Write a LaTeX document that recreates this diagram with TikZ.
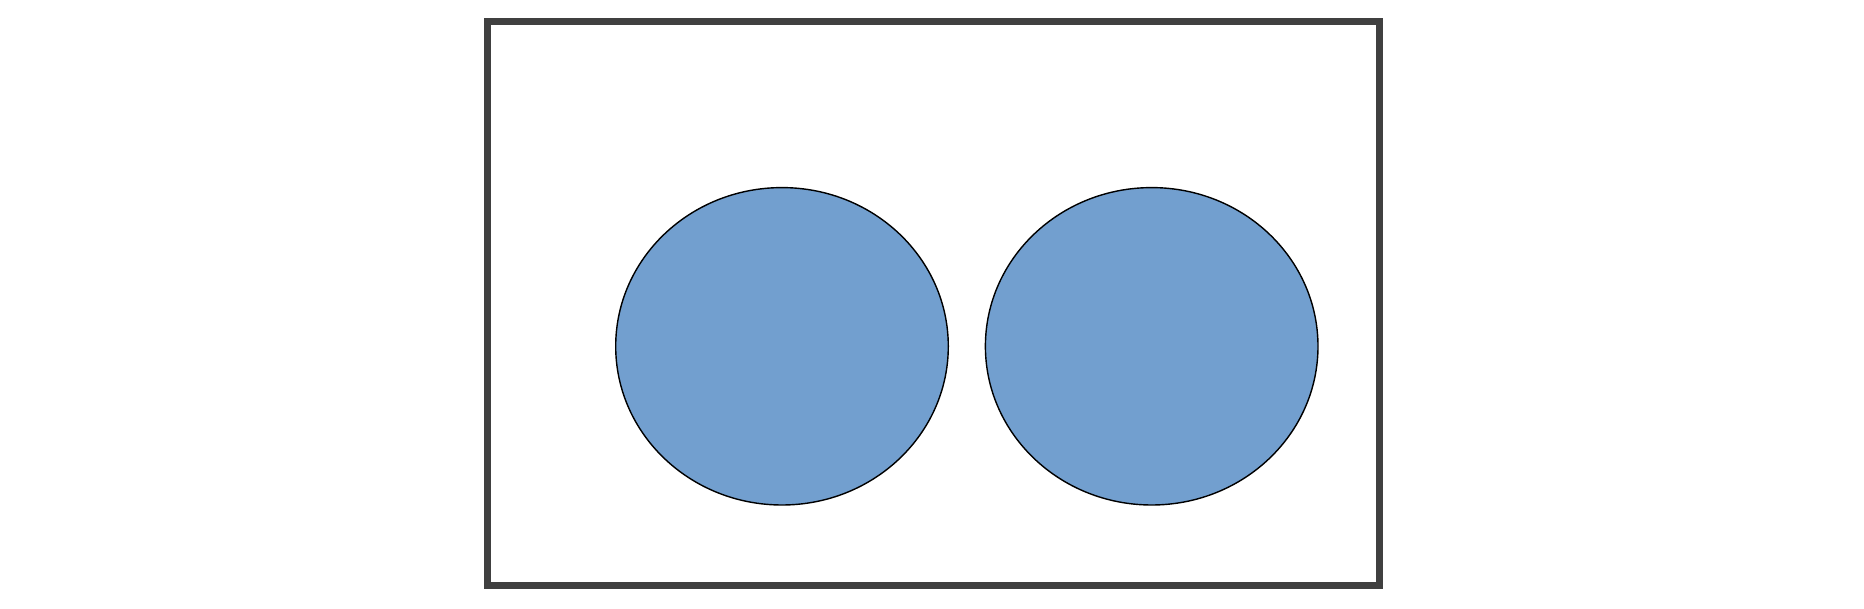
\documentclass[tikz,border=0pt]{standalone}
\usetikzlibrary{shapes.geometric}
\definecolor{drop}{HTML}{729FCF}
\definecolor{frame}{HTML}{404040}
\begin{document}
\begin{tikzpicture}

\useasboundingbox (0,0) rectangle (18.64,6.09);

\draw [frame, line width=0.07cm] (4.875,0.235) rectangle (13.79,5.87);

\node [ellipse, minimum width=3.326cm, minimum height=3.174cm, inner sep=0, draw, fill=drop, line width=0.4pt] (e1) at (7.82,2.627) {};
\node [ellipse, minimum width=3.326cm, minimum height=3.174cm, inner sep=0, draw, fill=drop, line width=0.4pt] (e2) at (11.517,2.627) {};

\end{tikzpicture}
\end{document}
